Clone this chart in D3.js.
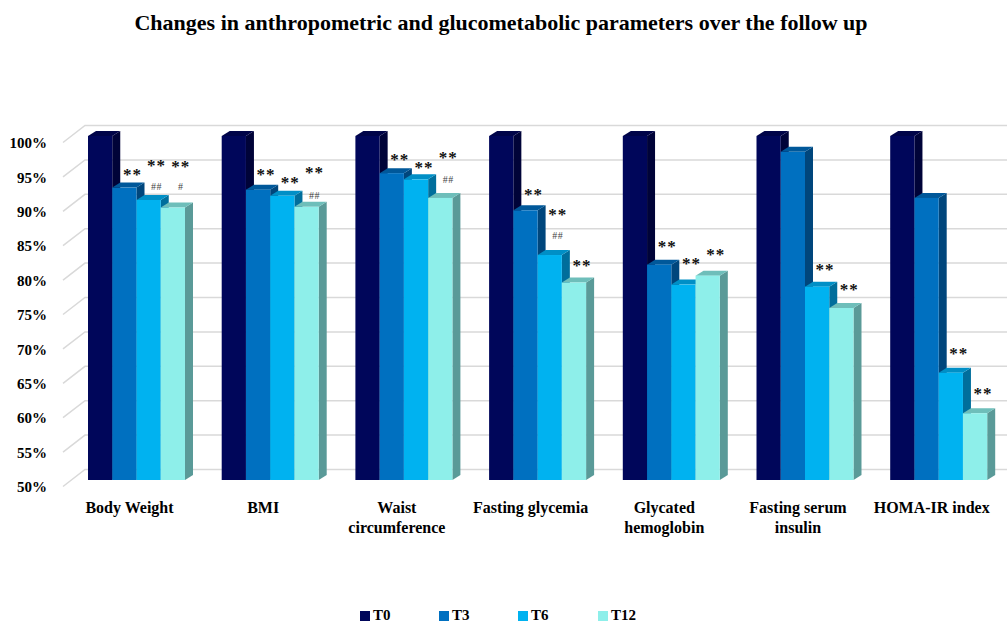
<!DOCTYPE html>
<html>
<head>
<meta charset="utf-8">
<script src="https://cdn.jsdelivr.net/npm/d3@7"></script>
<style>
  html, body { margin: 0; padding: 0; background: #fff; }
  svg { display: block; }
  text { font-family: "Liberation Serif", "DejaVu Serif", serif; }
</style>
</head>
<body>
<svg id="chart" width="1007" height="624"></svg>
<script>
// ---------- DATA ----------
const title = "Changes in anthropometric and glucometabolic parameters over the follow up";
const categories = ["Body Weight", "BMI", "Waist circumference", "Fasting glycemia",
                    "Glycated hemoglobin", "Fasting serum insulin", "HOMA-IR index"];
const categoryLines = [["Body Weight"], ["BMI"], ["Waist", "circumference"], ["Fasting glycemia"],
                       ["Glycated", "hemoglobin"], ["Fasting serum", "insulin"], ["HOMA-IR index"]];
const seriesNames = ["T0", "T3", "T6", "T12"];
const valuesT0  = [100, 100, 100, 100, 100, 100, 100];
const valuesT3  = [92.5, 92.2, 94.6, 89.2, 81.3, 97.7, 91.0];
const valuesT6  = [90.7, 91.3, 93.7, 82.7, 78.4, 78.1, 65.6];
const valuesT12 = [89.6, 89.7, 91.0, 78.7, 79.7, 75.0, 59.7];
const yTicks = [50, 55, 60, 65, 70, 75, 80, 85, 90, 95, 100];
const yTickLabels = yTicks.map(v => v + "%");
// significance marks: category index, series, text, level (in % units)
const marksCategory = [0, 0, 0, 0, 0, 1, 1, 1, 1, 2, 2, 2, 2, 3, 3, 3, 3, 4, 4, 4, 5, 5, 6, 6];
const marksSeries   = ["T3","T6","T6","T12","T12","T3","T6","T12","T12","T3","T6","T12","T12","T3","T6","T6","T12","T3","T6","T12","T6","T12","T6","T12"];
const marksText     = ["**","**","##","**","#","**","**","**","##","**","**","**","##","**","**","##","**","**","**","**","**","**","**","**"];
const marksLevel    = [94.7, 96.1, 92.6, 96.0, 92.6, 94.7, 93.6, 95.1, 91.4, 97.0, 95.8, 97.2, 93.7, 91.9, 89.0, 85.5, 81.5, 84.3, 81.8, 83.2, 80.9, 78.1, 68.8, 63.0];

const seriesValues = [valuesT0, valuesT3, valuesT6, valuesT12];

// ---------- STYLE ----------
const frontColors = ["#00065A", "#0070C0", "#00B2F0", "#8EEFEA"];
const sideColors  = ["#000338", "#00467C", "#006E9C", "#5A9A98"];
const topColors   = ["#000448", "#00589A", "#008FC6", "#6EBEBA"];
const depthX = 8, depthY = -5;

const svg = d3.select("#chart");

const y = d3.scaleLinear().domain([50, 100]).range([480, 136]);
const x = d3.scaleBand().domain(categories).range([69.65, 1005.55])
  .paddingInner(0.2745).paddingOuter(0.13725);
const xs = d3.scaleBand().domain(seriesNames).range([0, x.bandwidth()]);

// title
svg.append("text")
  .attr("x", 501).attr("y", 30)
  .attr("text-anchor", "middle")
  .attr("font-size", 22).attr("font-weight", "bold")
  .attr("fill", "#000")
  .text(title);

// gridlines (3D walls)
const grid = svg.append("g");
yTicks.forEach(v => {
  const yf = y(v) + 6.5, yb = y(v) - 10.5;
  grid.append("path")
    .attr("d", `M63,${yf}L85,${yb}L1007,${yb}`)
    .attr("fill", "none").attr("stroke", "#d9d9d9").attr("stroke-width", 1.5);
});

// y labels
svg.append("g").selectAll("text").data(yTicks).join("text")
  .attr("x", 47).attr("y", d => y(d) + 7)
  .attr("dy", "0.35em")
  .attr("text-anchor", "end")
  .attr("font-size", 15).attr("font-weight", "bold").attr("fill", "#000")
  .text((d, i) => yTickLabels[i]);

// bars
const bars = svg.append("g");
categories.forEach((cat, ci) => {
  seriesNames.forEach((s, si) => {
    const v = seriesValues[si][ci];
    const x0 = x(cat) + xs(s), w = xs.bandwidth();
    const yt = y(v), yb = y(50);
    // side
    bars.append("path")
      .attr("d", `M${x0 + w},${yt}L${x0 + w + depthX},${yt + depthY}L${x0 + w + depthX},${yb + depthY}L${x0 + w},${yb}Z`)
      .attr("fill", sideColors[si]);
    // top
    bars.append("path")
      .attr("d", `M${x0},${yt}L${x0 + w},${yt}L${x0 + w + depthX},${yt + depthY}L${x0 + depthX},${yt + depthY}Z`)
      .attr("fill", topColors[si]);
    // front
    bars.append("rect")
      .attr("x", x0).attr("y", yt).attr("width", w).attr("height", yb - yt)
      .attr("fill", frontColors[si]);
  });
});

// significance marks
const marks = svg.append("g");
marksText.forEach((t, i) => {
  const cat = categories[marksCategory[i]];
  const cx = x(cat) + xs(marksSeries[i]) + xs.bandwidth() / 2 + 8;
  const isStar = t.indexOf("*") >= 0;
  marks.append("text")
    .attr("x", cx).attr("y", y(marksLevel[i]) + (isStar ? 8 : 3.5))
    .attr("text-anchor", "middle")
    .attr("font-size", isStar ? 17 : 10)
    .attr("font-weight", isStar ? "bold" : "normal")
    .attr("fill", isStar ? "#111" : "#444")
    .attr("letter-spacing", isStar ? 1 : 0.5)
    .text(t);
});

// category labels
const labels = svg.append("g");
categories.forEach((cat, ci) => {
  const cx = x(cat) + x.bandwidth() / 2 - 7;
  const tx = labels.append("text")
    .attr("x", cx).attr("y", 513)
    .attr("text-anchor", "middle")
    .attr("font-size", 16).attr("font-weight", "bold").attr("fill", "#000");
  categoryLines[ci].forEach((line, li) => {
    tx.append("tspan").attr("x", cx).attr("dy", li === 0 ? 0 : 20).text(line);
  });
});

// legend
const legendX = [360, 439, 518, 598];
const legend = svg.append("g");
seriesNames.forEach((s, i) => {
  legend.append("rect").attr("x", legendX[i]).attr("y", 611).attr("width", 10).attr("height", 10)
    .attr("fill", frontColors[i]);
  legend.append("text").attr("x", legendX[i] + 13).attr("y", 620)
    .attr("font-size", 15).attr("font-weight", "bold").attr("fill", "#000")
    .text(s);
});
</script>
</body>
</html>
